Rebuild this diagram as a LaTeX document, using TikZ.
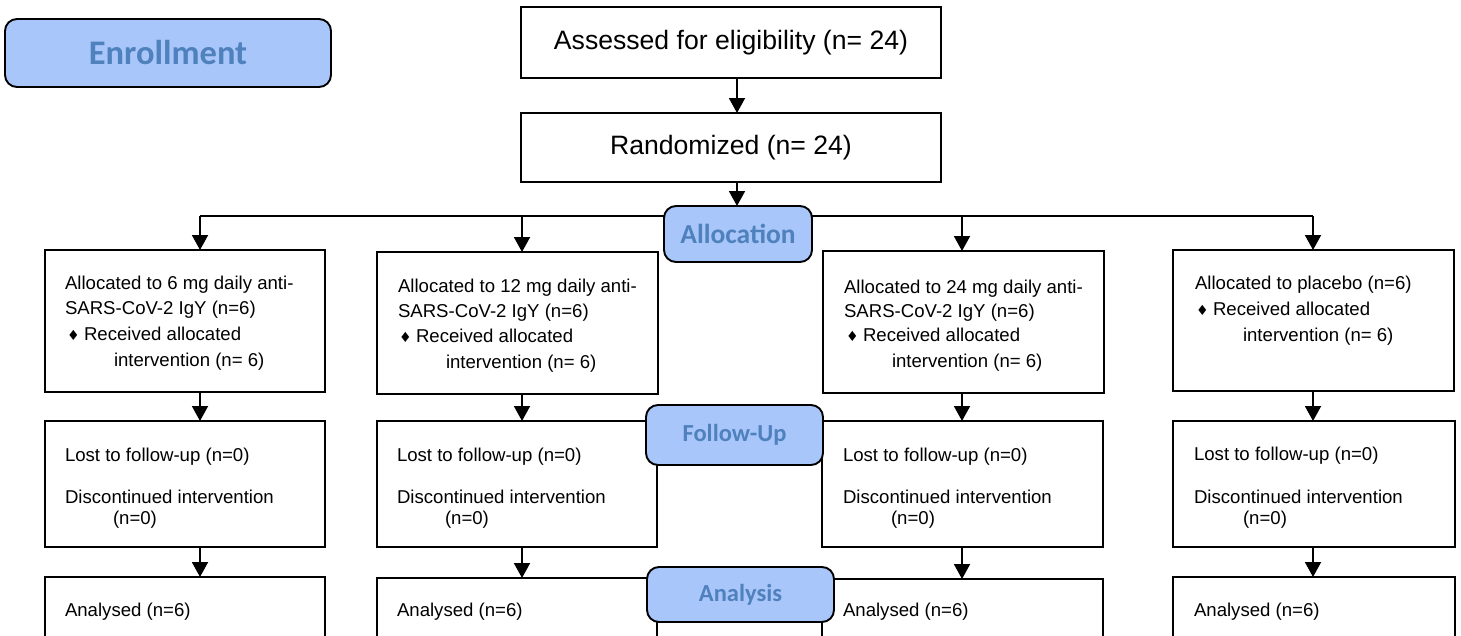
\documentclass[tikz,border=0pt]{standalone}
\usepackage{fontspec}
\setmainfont{Liberation Sans}
\newfontfamily\labfont{Carlito}
\newfontfamily\symfont{DejaVu Sans}
\usetikzlibrary{arrows.meta,calc}
\definecolor{lblue}{RGB}{168,198,250}
\definecolor{ltext}{RGB}{79,129,189}
\begin{document}
\begin{tikzpicture}[x=1pt,y=-1pt,
  box/.style={draw, line width=1.9pt, inner sep=0pt, outer sep=0pt, anchor=north west},
  topbox/.style={box, minimum width=420pt, font=\fontsize{26.6}{30}\selectfont},
  lab/.style={draw, line width=1.9pt, fill=lblue, rounded corners=12pt, inner sep=0pt, outer sep=0pt, anchor=north west, text=ltext},
  ln/.style={anchor=base west, inner sep=0pt, outer sep=0pt, font=\fontsize{18.6}{22}\selectfont},
  bul/.style={anchor=base west, inner sep=0pt, outer sep=0pt, font=\symfont\fontsize{14}{14}\selectfont},
  arr/.style={line width=1.9pt, -{Triangle[width=16pt,length=15pt]}},
  conn/.style={line width=1.9pt}
  ]
\useasboundingbox (0,0) rectangle (1461,635);
\clip (0,0) rectangle (1461,635);

% top boxes
\node[topbox, minimum height=71pt] (ass) at (521,7) {Assessed for eligibility (n= 24)};
\node[topbox, minimum height=69pt] (rnd) at (521,113) {Randomized (n= 24)};

% coordinates of the columns
\coordinate (cR) at (737,216);
\coordinate (cA) at (200,216);
\coordinate (cB) at (522,216);
\coordinate (cC) at (962,216);
\coordinate (cD) at (1313,216);

% row 1 boxes
\node[box, minimum width=280pt, minimum height=142pt] (b1) at (45,250) {};
\node[box, minimum width=281pt, minimum height=142pt] (b2) at (377,252) {};
\node[box, minimum width=281pt, minimum height=142pt] (b3) at (823,251) {};
\node[box, minimum width=281pt, minimum height=141pt] (b4) at (1173,250) {};

% row 2 boxes
\node[box, minimum width=280pt, minimum height=126pt] (f1) at (45,421) {};
\node[box, minimum width=280pt, minimum height=126pt] (f2) at (377,421) {};
\node[box, minimum width=281pt, minimum height=126pt] (f3) at (822,421) {};
\node[box, minimum width=282pt, minimum height=126pt] (f4) at (1173,421) {};

% row 3 boxes (cut off at the bottom)
\node[box, minimum width=280pt, minimum height=100pt] (a1) at (45,577) {};
\node[box, minimum width=280pt, minimum height=100pt] (a2) at (377,578) {};
\node[box, minimum width=281pt, minimum height=100pt] (a3) at (822,579) {};
\node[box, minimum width=282pt, minimum height=100pt] (a4) at (1173,577) {};

% texts row 1
\node[ln] (t1a) at (65,289) {Allocated to 6 mg daily anti-};
\node[ln] (t1b) at (65,314) {SARS-CoV-2 IgY (n=6)};
\node[bul] (t1c) at (67,340) {♦};
\node[ln] (t1d) at (84,340) {Received allocated};
\node[ln] (t1e) at (114,366) {intervention (n= 6)};

\node[ln] (t2a) at (398,292) {Allocated to 12 mg daily anti-};
\node[ln] (t2b) at (398,317) {SARS-CoV-2 IgY (n=6)};
\node[bul] (t2c) at (399,342) {♦};
\node[ln] (t2d) at (416,342) {Received allocated};
\node[ln] (t2e) at (446,368) {intervention (n= 6)};

\node[ln] (t3a) at (844,293) {Allocated to 24 mg daily anti-};
\node[ln] (t3b) at (844,317) {SARS-CoV-2 IgY (n=6)};
\node[bul] (t3c) at (846,341) {♦};
\node[ln] (t3d) at (863,341) {Received allocated};
\node[ln] (t3e) at (892,367) {intervention (n= 6)};

\node[ln] (t4a) at (1195,289) {Allocated to placebo (n=6)};
\node[bul] (t4c) at (1196,315) {♦};
\node[ln] (t4d) at (1213,315) {Received allocated};
\node[ln] (t4e) at (1243,341) {intervention (n= 6)};

% texts row 2
\node[ln] (u1a) at (65,461) {Lost to follow-up (n=0)};
\node[ln] (u1b) at (65,503) {Discontinued intervention};
\node[ln] (u1c) at (113,524) {(n=0)};
\node[ln] (u2a) at (397,461) {Lost to follow-up (n=0)};
\node[ln] (u2b) at (397,503) {Discontinued intervention};
\node[ln] (u2c) at (445,524) {(n=0)};
\node[ln] (u3a) at (843,461) {Lost to follow-up (n=0)};
\node[ln] (u3b) at (843,503) {Discontinued intervention};
\node[ln] (u3c) at (891,524) {(n=0)};
\node[ln] (u4a) at (1194,460) {Lost to follow-up (n=0)};
\node[ln] (u4b) at (1194,503) {Discontinued intervention};
\node[ln] (u4c) at (1243,524) {(n=0)};

% texts row 3
\node[ln] (v1) at (65,616) {Analysed (n=6)};
\node[ln] (v2) at (397,616) {Analysed (n=6)};
\node[ln] (v3) at (843,616) {Analysed (n=6)};
\node[ln] (v4) at (1194,616) {Analysed (n=6)};

% connectors
\draw[arr] (ass.south -| cR) -- (rnd.north -| cR);
\draw[conn] (cA) -- (cD);
\draw[arr] (rnd.south -| cR) -- ($(cR)+(0,-10)$);
\draw[arr] (cA) -- (b1.north -| cA);
\draw[arr] (cB) -- (b2.north -| cB);
\draw[arr] (cC) -- (b3.north -| cC);
\draw[arr] (cD) -- (b4.north -| cD);
\draw[arr] (b1.south -| cA) -- (f1.north -| cA);
\draw[arr] (b2.south -| cB) -- (f2.north -| cB);
\draw[arr] (b3.south -| cC) -- (f3.north -| cC);
\draw[arr] (b4.south -| cD) -- (f4.north -| cD);
\draw[arr] (f1.south -| cA) -- (a1.north -| cA);
\draw[arr] (f2.south -| cB) -- (a2.north -| cB);
\draw[arr] (f3.south -| cC) -- (a3.north -| cC);
\draw[arr] (f4.south -| cD) -- (a4.north -| cD);

% stage labels
\node[lab, minimum width=326pt, minimum height=68pt, font=\labfont\bfseries\fontsize{34.5}{36}\selectfont] (enr) at (5,19) {Enrollment};
\node[lab, minimum width=148pt, minimum height=56pt, font=\labfont\bfseries\fontsize{27.5}{30}\selectfont] (alloc) at (664,206) {Allocation};
\node[lab, minimum width=177pt, minimum height=60pt, font=\labfont\bfseries\fontsize{24.5}{27}\selectfont] (fu) at (646,405) {Follow-Up};
\node[lab, minimum width=187pt, minimum height=55pt, font=\labfont\bfseries\fontsize{24.5}{27}\selectfont] (an) at (647,567) {Analysis};
\end{tikzpicture}
\end{document}
